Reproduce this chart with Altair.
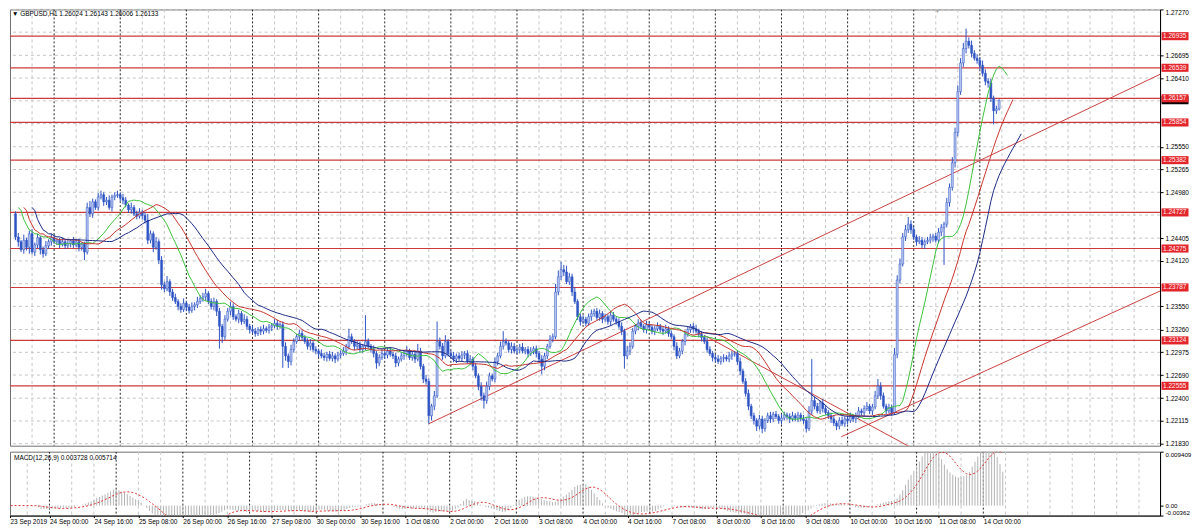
import altair as alt
import pandas as pd

# ---------------- data ----------------
closes = [
    1.2479, 1.2471, 1.2442, 1.2436, 1.2426, 1.2438, 1.2429, 1.2446, 1.2423, 1.2432,
    1.2441, 1.2426, 1.2421, 1.2431, 1.2436, 1.2441, 1.2436, 1.2438, 1.2433, 1.2436,
    1.2431, 1.2434, 1.2437, 1.2432, 1.2436, 1.2429, 1.2433, 1.2423, 1.2479, 1.2471,
    1.2486, 1.2479, 1.2492, 1.2495, 1.2486, 1.2488, 1.2479, 1.2492, 1.2494, 1.2495,
    1.2491, 1.2488, 1.2482, 1.2476, 1.2479, 1.2471, 1.2468, 1.2473, 1.2469, 1.2463,
    1.2438, 1.2446, 1.2429, 1.2436, 1.2413, 1.2382, 1.2377, 1.2386, 1.2373, 1.2366,
    1.2361, 1.2355, 1.2351, 1.2359, 1.2354, 1.2350, 1.2355, 1.2357, 1.2361, 1.2365,
    1.2367, 1.2371, 1.2361, 1.2355, 1.2361, 1.2349, 1.2330, 1.2317, 1.2339, 1.2349,
    1.2355, 1.2342, 1.2339, 1.2346, 1.2336, 1.2339, 1.2330, 1.2326, 1.2324, 1.2321,
    1.2326, 1.2324, 1.2327, 1.2325, 1.2329, 1.2331, 1.2334, 1.2330, 1.2332, 1.2305,
    1.2293, 1.2286, 1.2301, 1.2311, 1.2317, 1.2321, 1.2316, 1.2311, 1.2305, 1.2309,
    1.2301, 1.2299, 1.2296, 1.2293, 1.2291, 1.2295, 1.2290, 1.2293, 1.2289, 1.2294,
    1.2296, 1.2299, 1.2305, 1.2317, 1.2311, 1.2305, 1.2307, 1.2301, 1.2305, 1.2311,
    1.2305, 1.2301, 1.2296, 1.2284, 1.2291, 1.2296, 1.2294, 1.2299, 1.2295, 1.2293,
    1.2284, 1.2289, 1.2293, 1.2296, 1.2299, 1.2291, 1.2295, 1.2289, 1.2299, 1.2280,
    1.2264, 1.2261, 1.2218, 1.2230, 1.2243, 1.2311, 1.2305, 1.2293, 1.2311, 1.2296,
    1.2293, 1.2289, 1.2293, 1.2290, 1.2294, 1.2296, 1.2286, 1.2289, 1.2280, 1.2268,
    1.2255, 1.2243, 1.2237, 1.2255, 1.2268, 1.2264, 1.2286, 1.2293, 1.2305, 1.2311,
    1.2309, 1.2301, 1.2305, 1.2299, 1.2301, 1.2304, 1.2299, 1.2301, 1.2296, 1.2299,
    1.2302, 1.2296, 1.2289, 1.2280, 1.2293, 1.2305, 1.2314, 1.2317, 1.2373, 1.2392,
    1.2401, 1.2398, 1.2386, 1.2392, 1.2373, 1.2361, 1.2342, 1.2336, 1.2339, 1.2334,
    1.2342, 1.2346, 1.2349, 1.2341, 1.2346, 1.2339, 1.2342, 1.2336, 1.2344, 1.2339,
    1.2336, 1.2330, 1.2324, 1.2293, 1.2299, 1.2305, 1.2324, 1.2330, 1.2334, 1.2330,
    1.2326, 1.2332, 1.2329, 1.2324, 1.2327, 1.2330, 1.2326, 1.2324, 1.2327, 1.2321,
    1.2317, 1.2305, 1.2293, 1.2299, 1.2311, 1.2320, 1.2326, 1.2330, 1.2327, 1.2324,
    1.2320, 1.2316, 1.2311, 1.2301, 1.2296, 1.2291, 1.2289, 1.2286, 1.2290, 1.2291,
    1.2289, 1.2293, 1.2295, 1.2296, 1.2286, 1.2274, 1.2261, 1.2246, 1.2230, 1.2218,
    1.2212, 1.2205, 1.2214, 1.2202, 1.2212, 1.2218, 1.2214, 1.2220, 1.2217, 1.2212,
    1.2215, 1.2219, 1.2217, 1.2214, 1.2218, 1.2215, 1.2219, 1.2214, 1.2212, 1.2202,
    1.2224, 1.2237, 1.2230, 1.2224, 1.2234, 1.2227, 1.2222, 1.2218, 1.2214, 1.2209,
    1.2205, 1.2212, 1.2208, 1.2214, 1.2212, 1.2217, 1.2214, 1.2218, 1.2224, 1.2222,
    1.2227, 1.2230, 1.2224, 1.2229, 1.2243, 1.2255, 1.2243, 1.2230, 1.2224, 1.2228,
    1.2222, 1.2295, 1.2388, 1.2408, 1.2442, 1.2451, 1.2458, 1.2451, 1.2442, 1.2436,
    1.2438, 1.2432, 1.2436, 1.2438, 1.2441, 1.2443, 1.2438, 1.2448, 1.2454, 1.2458,
    1.2485, 1.2504, 1.2535, 1.2573, 1.2624, 1.2660, 1.2678, 1.2687, 1.2682, 1.2672,
    1.2666, 1.2663, 1.2657, 1.2647, 1.2637, 1.2635, 1.2616, 1.2600, 1.26024, 1.26133,
]
first_open = 1.2488

# wick lengths beyond the candle body, in pips
up_pips = [
    6, 4, 3, 5, 2, 7, 3, 4, 6, 3, 5, 2, 4, 6, 3, 5, 4, 2, 3, 5,
    3, 4, 2, 5, 3, 4, 2, 3, 6, 8, 4, 3, 5, 5, 3, 4, 6, 3, 4, 5,
    3, 5, 4, 2, 6, 3, 4, 5, 3, 4, 8, 4, 3, 6, 3, 5, 4, 7, 3, 4,
    5, 3, 4, 6, 3, 4, 5, 3, 6, 4, 5, 6, 3, 4, 5, 3, 4, 3, 5, 4,
    6, 4, 3, 5, 3, 6, 4, 3, 5, 4, 3, 4, 5, 3, 4, 3, 5, 4, 3, 4,
    5, 3, 6, 4, 3, 5, 4, 3, 4, 5, 3, 4, 3, 5, 4, 3, 4, 5, 3, 4,
    4, 5, 3, 10, 4, 3, 5, 4, 3, 33, 4, 3, 5, 3, 4, 5, 3, 4, 5, 3,
    4, 3, 5, 4, 6, 3, 4, 5, 9, 4, 3, 5, 4, 3, 6, 25, 5, 4, 8, 3,
    4, 5, 3, 4, 5, 3, 4, 5, 3, 4, 3, 5, 4, 6, 4, 3, 5, 4, 6, 13,
    4, 3, 5, 4, 3, 4, 5, 3, 4, 5, 3, 4, 3, 5, 4, 3, 5, 4, 10, 8,
    10, 6, 8, 5, 4, 6, 3, 4, 5, 3, 4, 5, 3, 4, 5, 3, 4, 3, 5, 4,
    3, 4, 5, 3, 6, 5, 4, 3, 5, 4, 3, 5, 4, 3, 4, 5, 3, 4, 5, 3,
    4, 3, 5, 4, 3, 5, 4, 3, 4, 5, 3, 4, 3, 5, 4, 3, 4, 5, 3, 4,
    3, 5, 4, 3, 4, 5, 3, 4, 5, 3, 4, 3, 5, 4, 3, 4, 5, 3, 4, 3,
    5, 4, 3, 4, 5, 3, 4, 3, 5, 4, 6, 52, 5, 4, 3, 5, 4, 3, 4, 5,
    3, 4, 5, 3, 4, 5, 3, 4, 5, 3, 4, 5, 3, 4, 6, 9, 5, 4, 3, 5,
    4, 8, 6, 7, 5, 6, 9, 5, 4, 3, 5, 4, 3, 4, 5, 3, 4, 5, 4, 3,
    6, 5, 7, 6, 8, 6, 7, 16, 5, 6, 4, 5, 4, 6, 5, 4, 5, 3, 4, 1,
]
dn_pips = [
    3, 5, 4, 6, 3, 5, 4, 8, 3, 5, 4, 6, 5, 3, 4, 5, 3, 4, 5, 3,
    4, 3, 5, 4, 3, 5, 4, 10, 3, 4, 5, 3, 4, 3, 5, 4, 3, 5, 4, 3,
    4, 5, 3, 4, 5, 3, 4, 3, 5, 4, 5, 4, 6, 3, 5, 6, 4, 3, 5, 4,
    3, 5, 4, 3, 5, 4, 3, 5, 4, 3, 4, 5, 3, 4, 5, 6, 28, 8, 4, 3,
    5, 4, 3, 5, 4, 3, 4, 5, 3, 4, 3, 5, 4, 3, 4, 5, 3, 4, 3, 27,
    6, 8, 5, 4, 3, 5, 4, 3, 4, 5, 3, 4, 5, 3, 4, 5, 3, 4, 5, 3,
    4, 3, 5, 4, 3, 5, 4, 3, 4, 5, 3, 4, 5, 7, 4, 3, 5, 4, 3, 4,
    5, 4, 3, 5, 4, 3, 4, 5, 3, 4, 5, 4, 10, 6, 5, 3, 4, 5, 3, 4,
    3, 4, 5, 3, 4, 5, 3, 4, 5, 3, 5, 6, 10, 4, 5, 3, 4, 5, 3, 4,
    3, 4, 5, 3, 4, 5, 3, 4, 5, 3, 4, 5, 4, 10, 5, 4, 3, 4, 3, 4,
    4, 5, 3, 4, 5, 3, 4, 5, 3, 4, 3, 5, 4, 3, 4, 5, 3, 4, 5, 3,
    4, 3, 5, 16, 4, 5, 3, 4, 5, 3, 4, 5, 3, 4, 5, 3, 4, 5, 3, 4,
    3, 5, 4, 3, 4, 5, 3, 4, 5, 3, 4, 5, 3, 4, 3, 5, 4, 3, 4, 5,
    3, 4, 5, 3, 4, 5, 3, 4, 5, 4, 5, 6, 4, 6, 4, 3, 5, 4, 3, 4,
    5, 3, 4, 5, 3, 4, 5, 3, 4, 5, 3, 5, 4, 3, 4, 5, 3, 4, 5, 4,
    5, 4, 3, 4, 5, 3, 4, 5, 3, 4, 5, 3, 4, 5, 3, 4, 5, 3, 4, 3,
    4, 3, 5, 4, 3, 5, 4, 5, 4, 5, 3, 4, 5, 3, 4, 5, 3, 4, 5, 47,
    4, 5, 4, 6, 5, 4, 5, 6, 4, 5, 3, 4, 5, 4, 5, 6, 5, 17, 4, 2,
]
pip = 0.0001

time_labels = [
    "23 Sep 2019", "24 Sep 00:00", "24 Sep 16:00", "25 Sep 08:00", "26 Sep 00:00",
    "26 Sep 16:00", "27 Sep 08:00", "30 Sep 00:00", "30 Sep 16:00", "1 Oct 08:00",
    "2 Oct 00:00", "2 Oct 16:00", "3 Oct 08:00", "4 Oct 00:00", "4 Oct 16:00",
    "7 Oct 08:00", "8 Oct 00:00", "8 Oct 16:00", "9 Oct 08:00", "10 Oct 00:00",
    "10 Oct 16:00", "11 Oct 08:00", "14 Oct 00:00",
]
label_every = 16
day_start_bars = [16, 40, 64, 88, 112, 136, 160, 184, 208, 232, 256, 280, 304, 328, 352]
grid_every = 8

# all price grid levels, and the labels that stay readable beside the red level tags
price_ticks = [1.27270, 1.26985, 1.26695, 1.26410, 1.26125, 1.25840, 1.25550, 1.25265,
               1.24980, 1.24695, 1.24405, 1.24120, 1.23835, 1.23550, 1.23260, 1.22975,
               1.22690, 1.22400, 1.22115, 1.21830]
price_labels = [1.27270, 1.26695, 1.26410, 1.25550, 1.25265, 1.24980, 1.24405, 1.24120,
                1.23550, 1.23260, 1.22975, 1.22690, 1.22400, 1.22115, 1.21830]
levels = [1.26935, 1.26539, 1.26157, 1.25854, 1.25382, 1.24727, 1.24275, 1.23787, 1.23124, 1.22555]
bid_price = 1.26133

trend_names = ["up", "up", "low", "low", "down", "down"]
trend_bars = [152, 420, 301.7, 420, 252, 326.5]
trend_prices = [1.2208, 1.2650, 1.21917, 1.23784, 1.23187, 1.21792]

macd_ticks = [0.009409, 0.0, -0.00174]
header_text = "\u25bc GBPUSD,H1  1.26024 1.26143 1.26006 1.26133"
macd_text = "MACD(12,26,9) 0.003728 0.005714"

# ---------------- tables ----------------
n = len(closes)
opens = [first_open] + closes[:-1]
df = pd.DataFrame({"i": list(range(n)), "open": opens, "close": closes})
df["high"] = df[["open", "close"]].max(axis=1) + pd.Series(up_pips) * pip
df["low"] = df[["open", "close"]].min(axis=1) - pd.Series(dn_pips) * pip
df["bull"] = df["close"] >= df["open"]

light_df = pd.DataFrame({"g": [b for b in range(grid_every, 416, grid_every) if b not in day_start_bars]})
day_df = pd.DataFrame({"g": day_start_bars})
tick_df = pd.DataFrame({"p": price_ticks})
lvl_df = pd.DataFrame({"p": levels})
bid_df = pd.DataFrame({"p": [bid_price]})
trend_df = pd.DataFrame({"name": trend_names, "b": trend_bars, "p": trend_prices})

W, H_MAIN, H_MACD = 1152, 437, 64
FONT = "Liberation Sans"
FS = 6.5
X0 = 1.8
X1 = X0 + W / 2.784

xscale = alt.Scale(domain=[X0, X1], nice=False, zero=False)
yscale = alt.Scale(domain=[1.21805, 1.2727], nice=False, zero=False)
mscale = alt.Scale(domain=[-0.00174, 0.009409], nice=False, zero=False)

yaxis = alt.Axis(orient="right", values=price_labels, format=".5f", title=None, grid=False,
                 tickSize=3, labelPadding=2, labelFontSize=FS, labelFont=FONT, labelFlush=1,
                 labelColor="black", tickColor="black", domainColor="black")

x_label_values = [X0] + list(range(label_every, label_every * len(time_labels), label_every))
label_expr = "[" + ",".join(f"'{s}'" for s in time_labels) + f"][round(datum.value/{label_every})]"
xaxis = alt.Axis(values=x_label_values, labelExpr=label_expr, labelAlign="left",
                 labelBaseline="top", labelFontSize=FS, labelFont=FONT, labelColor="black",
                 labelPadding=1, tickSize=2, tickColor="black", domainColor="black",
                 grid=False, title=None, labelOverlap=False, labelFlush=False)
maxis = alt.Axis(orient="right", values=macd_ticks, title=None, grid=False,
                 labelExpr="datum.value > 0.005 ? '0.009409' : (datum.value < -0.001 ? '-0.00362' : '0.00')",
                 labelFlush=True, tickSize=3, labelPadding=2, labelFontSize=6.2, labelFont=FONT,
                 labelColor="black", tickColor="black", domainColor="black")


def Yp(field):
    return alt.Y(field, scale=yscale, axis=yaxis)


def Xp(field):
    return alt.X(field, scale=xscale, axis=None)


def Xm(field):
    return alt.X(field, scale=xscale, axis=xaxis)


def Ym(field):
    return alt.Y(field, scale=mscale, axis=maxis)


LIGHT = "#c6c6c6"


def vgrid(data, color, dash, xenc, op=1.0):
    return alt.Chart(data).mark_rule(color=color, strokeDash=dash, strokeWidth=1, opacity=op,
                                     clip=True).encode(x=xenc("g:Q"))


hgrid = alt.Chart(tick_df).mark_rule(color=LIGHT, strokeDash=[3, 3], strokeWidth=1).encode(
    y=Yp("p:Q"))

lvl_lines = alt.Chart(lvl_df).mark_rule(color="#cc3b3b", strokeWidth=1.2).encode(y=Yp("p:Q"))

trends = alt.Chart(trend_df).mark_line(color="#cc4040", strokeWidth=1, clip=True).encode(
    x=Xp("b:Q"), y=Yp("p:Q"), detail="name:N")

CANDLE = "#2f54c4"
visible = f"datum.i >= {X0}"
wicks = alt.Chart(df).transform_filter(visible).mark_rule(
    color=CANDLE, strokeWidth=1, clip=True).encode(
    x=Xp("i:Q"), y=Yp("low:Q"), y2="high:Q")

bodies = alt.Chart(df).transform_filter(visible).mark_bar(
    size=2, stroke=CANDLE, strokeWidth=0.5, clip=True).encode(
    x=Xp("i:Q"), y=Yp("open:Q"), y2="close:Q",
    fill=alt.condition("datum.bull", alt.value("#b9c7f0"), alt.value(CANDLE)))


def ma_line(period, shift, color):
    return alt.Chart(df).transform_window(
        ma="mean(close)", frame=[-(period - 1), 0], sort=[{"field": "i"}]
    ).transform_calculate(xs=f"datum.i + {shift}").transform_filter(
        f"datum.xs >= {X0}").mark_line(
        color=color, strokeWidth=1, clip=True).encode(
        x=Xp("xs:Q"), y=Yp("ma:Q"), order="i:Q")


ma_green = ma_line(13, 3, "#3cc23c")
ma_red = ma_line(21, 5, "#c8342c")
ma_blue = ma_line(28, 8, "#1c2a86")

BOX = "M-1,-0.3H1V0.3H-1Z"
bid_box = alt.Chart(bid_df).mark_point(shape=BOX, filled=True, size=729, color="black",
                                       opacity=1, strokeWidth=0).encode(
    x=alt.value(W + 15), y=Yp("p:Q"))
lvl_boxes = alt.Chart(lvl_df).mark_point(shape=BOX, filled=True, size=729, color="#e3262c",
                                         opacity=1, strokeWidth=0).encode(
    x=alt.value(W + 15), y=Yp("p:Q"))
lvl_text = alt.Chart(lvl_df).mark_text(align="left", baseline="middle", font=FONT,
                                       fontSize=FS, color="#fff0f0").encode(
    x=alt.value(W + 3), y=Yp("p:Q"), text=alt.Text("p:Q", format=".5f"))

header = alt.Chart(pd.DataFrame({"t": [header_text]})).mark_text(
    align="left", baseline="top", font=FONT, fontSize=FS, color="black").encode(
    x=alt.value(2), y=alt.value(2), text="t:N")

shift_marker = alt.Chart(pd.DataFrame({"t": ["\u25bc"]})).mark_text(
    align="center", baseline="top", fontSize=5, color="#a0a0a0").encode(
    x=alt.value(929), y=alt.value(0), text="t:N")

main = alt.layer(
    vgrid(light_df, LIGHT, [3, 3], Xp), hgrid, vgrid(day_df, "black", [2, 2], Xp, 0.85),
    lvl_lines, trends, wicks, bodies, ma_green, ma_red, ma_blue,
    bid_box, lvl_boxes, lvl_text, header, shift_marker,
).properties(width=W, height=H_MAIN)

# ---------------- MACD panel ----------------
macd_base = alt.Chart(df).transform_window(
    fast="mean(close)", frame=[-11, 0], sort=[{"field": "i"}]
).transform_window(
    slow="mean(close)", frame=[-25, 0], sort=[{"field": "i"}]
).transform_calculate(macd="datum.fast - datum.slow").transform_window(
    signal="mean(macd)", frame=[-8, 0], sort=[{"field": "i"}]
).transform_filter(visible)

hist = macd_base.mark_rule(color="#b4b4b4", strokeWidth=1, clip=True).encode(
    x=Xm("i:Q"), y=Ym("macd:Q"), y2=alt.datum(0))
signal = macd_base.mark_line(color="#e03030", strokeWidth=1, strokeDash=[2, 2], clip=True).encode(
    x=Xm("i:Q"), y=Ym("signal:Q"))
macd_head = alt.Chart(pd.DataFrame({"t": [macd_text]})).mark_text(
    align="left", baseline="top", font=FONT, fontSize=FS, color="black").encode(
    x=alt.value(4), y=alt.value(3), text="t:N")

macd = alt.layer(
    vgrid(light_df, LIGHT, [3, 3], Xm), vgrid(day_df, "black", [2, 2], Xm, 0.85),
    hist, signal, macd_head,
).properties(width=W, height=H_MACD)

chart = alt.vconcat(main, macd, spacing=2).properties(
    padding=0,
    background="white",
).configure_view(stroke="#707070", strokeWidth=1)

chart.save("out.html", embed_options={"renderer": "svg", "actions": False})
